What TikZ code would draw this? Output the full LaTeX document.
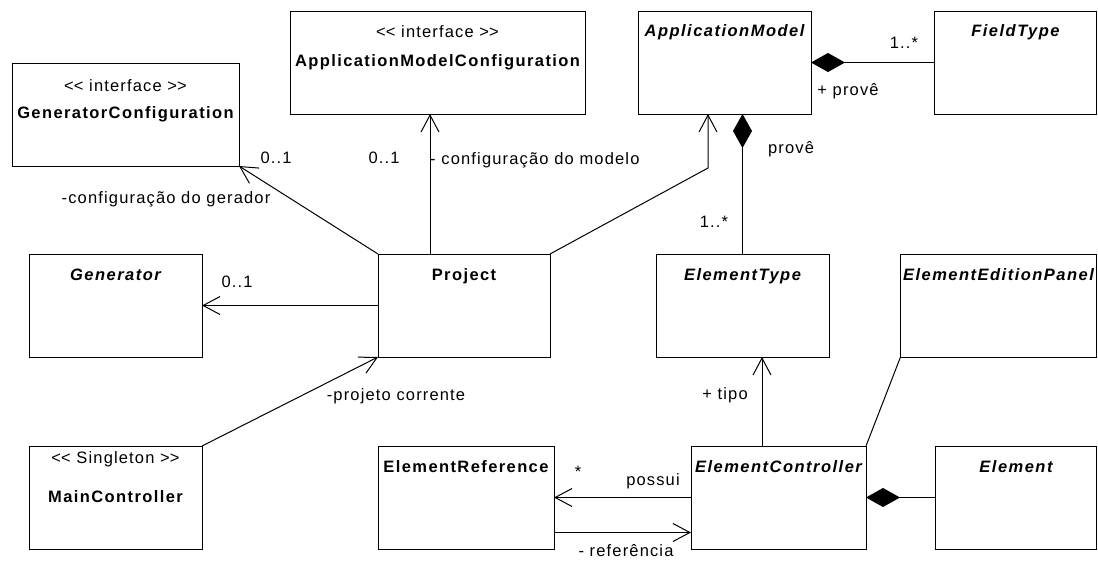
\documentclass[tikz,border=0pt]{standalone}
\usepackage{fontspec}
\setmainfont{Liberation Sans}[LetterSpace=7,BoldFeatures={LetterSpace=8.5},BoldItalicFeatures={LetterSpace=9}]
\usetikzlibrary{arrows.meta}
\begin{document}
\begin{tikzpicture}[x=1pt,y=-1pt,
  box/.style={draw,line width=1pt,inner sep=0pt,outer sep=0pt,anchor=north west,minimum height=103pt},
  txt/.style={inner sep=0pt,anchor=base,font=\fontsize{16.5}{19}\selectfont},
  nm/.style={txt,font=\fontsize{16.5}{19}\selectfont\bfseries},
  inm/.style={txt,font=\fontsize{16.5}{19}\selectfont\bfseries\itshape},
  assoc/.style={line width=1pt,-{Straight Barb[length=17pt,width=18pt]}},
  comp/.style={line width=1pt,{Diamond[length=34pt,width=19pt]}-},
  plainline/.style={line width=1pt}]
\clip (0,0) rectangle (1098,560);
\fill[white] (0,0) rectangle (1098,560);
% boxes
\node[box,minimum width=227pt] (gc) at (12,63) {};
\node[box,minimum width=295pt] (amc) at (290,11) {};
\node[box,minimum width=173pt] (am) at (638,11) {};
\node[box,minimum width=162pt] (ft) at (934.5,11) {};
\node[box,minimum width=173pt] (gen) at (29,254) {};
\node[box,minimum width=172pt] (proj) at (378,254) {};
\node[box,minimum width=173pt] (et) at (656,254) {};
\node[box,minimum width=196pt] (eep) at (900.5,254) {};
\node[box,minimum width=173pt] (mc) at (29,446) {};
\node[box,minimum width=176pt] (er) at (378,446) {};
\node[box,minimum width=175pt] (ec) at (691,446) {};
\node[box,minimum width=161pt] (el) at (935.5,446) {};
% box texts
\node[txt] (gcs) at (125.5,91) {<\kern0pt< interface >\kern0pt>};
\node[nm] (gcn) at (125.5,118) {GeneratorConfiguration};
\node[txt] (amcs) at (437.5,37) {<\kern0pt< interface >\kern0pt>};
\node[nm] (amcn) at (437.5,66) {ApplicationModelConfiguration};
\node[inm] (amn) at (724.5,36) {ApplicationModel};
\node[inm] (ftn) at (1015.5,36) {FieldType};
\node[inm] (genn) at (115.5,280) {Generator};
\node[nm] (projn) at (464,280) {Project};
\node[inm] (etn) at (742.5,280) {ElementType};
\node[inm] (eepn) at (998.5,280) {ElementEditionPanel};
\node[txt] (mcs) at (115.5,463) {<\kern0pt< Singleton >\kern0pt>};
\node[nm] (mcn) at (115.5,502) {MainController};
\node[nm] (ern) at (466,472) {ElementReference};
\node[inm] (ecn) at (778.5,472) {ElementController};
\node[inm] (eln) at (1016,472) {Element};
% connectors
\coordinate (pamc) at (430,254);
\coordinate (bend) at (708,168);
\coordinate (ect) at (762,446);
\draw[assoc] (proj.north west) -- (gc.south east);
\draw[assoc] (pamc) -- (pamc |- amc.south);
\draw[assoc] (proj.north east) -- (bend) -- (bend |- am.south);
\draw[comp] (et.north |- am.south) -- (et.north);
\draw[comp] (am.east) -- (am.east -| ft.west);
\draw[assoc] (proj.west) -- (proj.west -| gen.east);
\draw[assoc] (mc.north east) -- (proj.south west);
\draw[assoc] (ect) -- (ect |- et.south);
\draw[plainline] (ec.north east) -- (eep.south west);
\draw[comp] (ec.east) -- (ec.east -| el.west);
\draw[assoc] (ec.west) -- (ec.west -| er.east);
\draw[assoc] ([yshift=-35pt]er.east) -- ([yshift=-35pt]er.east -| ec.west);
% labels
\node[txt] (l1) at (276,163) {0..1};
\node[txt] (l2) at (166,203) {-configuração do gerador};
\node[txt] (l3) at (384,163) {0..1};
\node[txt,anchor=base west] (l4) at (430,164) {- configuração do modelo};
\node[txt] (l5) at (791,153) {provê};
\node[txt] (l6) at (714,227) {1..*};
\node[txt] (l7) at (904,48) {1..*};
\node[txt] (l8) at (848,95) {+ provê};
\node[txt] (l9) at (237,287) {0..1};
\node[txt] (l10) at (396,400) {-projeto corrente};
\node[txt] (l11) at (725,399) {+ tipo};
\node[txt] (l12) at (578,477) {*};
\node[txt] (l13) at (653,485) {possui};
\node[txt] (l14) at (626,556) {- referência};
\end{tikzpicture}
\end{document}
